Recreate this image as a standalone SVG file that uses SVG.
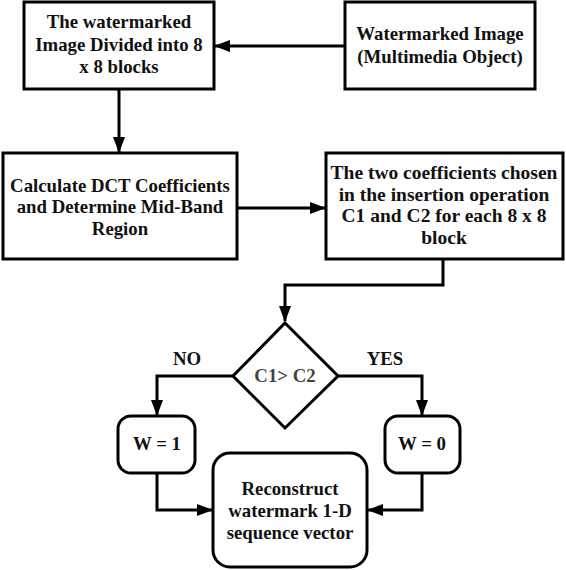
<svg xmlns="http://www.w3.org/2000/svg" width="566" height="570" viewBox="0 0 566 570">
<style>
.box{fill:#fff;stroke:#000;stroke-width:3}
.t{font-family:"Liberation Serif","Times New Roman",serif;font-weight:bold;font-size:18.8px;fill:#111;text-anchor:middle}
.c{fill:none;stroke:#000;stroke-width:3}
</style>
<defs>
<marker id="ah" markerWidth="16" markerHeight="12" refX="15" refY="6" orient="auto" markerUnits="userSpaceOnUse">
<path d="M0,0 L16,6 L0,12 Z" fill="#000"/>
</marker>
</defs>
<rect width="566" height="570" fill="#fff"/>
<g id="connectors">
<path class="c" d="M345,46 H215" marker-end="url(#ah)"/>
<path class="c" d="M119,89 V152" marker-end="url(#ah)"/>
<path class="c" d="M237,208 H325" marker-end="url(#ah)"/>
<path class="c" d="M443,259 V285 H285 V321" marker-end="url(#ah)"/>
<path class="c" d="M233,376 H157 V415" marker-end="url(#ah)"/>
<path class="c" d="M338,376 H422 V415" marker-end="url(#ah)"/>
<path class="c" d="M157,473 V510 H212" marker-end="url(#ah)"/>
<path class="c" d="M422,473 V510 H368" marker-end="url(#ah)"/>
</g>
<g id="n1">
<rect class="box" x="24" y="2" width="190" height="87"/>
<text class="t" x="119" y="28">The watermarked</text>
<text class="t" x="119" y="51">Image Divided into 8</text>
<text class="t" x="119" y="73">x 8 blocks</text>
</g>
<g id="n2">
<rect class="box" x="345" y="2" width="190" height="87"/>
<text class="t" x="440" y="40">Watermarked Image</text>
<text class="t" x="440" y="63">(Multimedia Object)</text>
</g>
<g id="n3">
<rect class="box" x="3" y="153" width="234" height="106"/>
<text class="t" x="120" y="192">Calculate DCT Coefficients</text>
<text class="t" x="120" y="213">and Determine Mid-Band</text>
<text class="t" x="120" y="235">Region</text>
</g>
<g id="n4">
<rect class="box" x="326" y="153" width="237" height="106"/>
<text class="t" x="444" y="179" style="font-size:19.5px">The two coefficients chosen</text>
<text class="t" x="444" y="201" style="font-size:19.5px">in the insertion operation</text>
<text class="t" x="444" y="222" style="font-size:19.5px">C1 and C2 for each 8 x 8</text>
<text class="t" x="444" y="244" style="font-size:19.5px">block</text>
</g>
<g id="decision">
<path class="box" d="M285,323 L338,376 L285,428 L233,376 Z"/>
<text class="t" x="285" y="382" style="fill:#444">C1&gt; C2</text>
</g>
<g id="labels">
<text class="t" x="187" y="365">NO</text>
<text class="t" x="385" y="365">YES</text>
</g>
<g id="w1">
<rect class="box" x="118" y="416" width="77" height="57" rx="13"/>
<text class="t" x="157" y="450">W = 1</text>
</g>
<g id="w0">
<rect class="box" x="385" y="416" width="75" height="57" rx="13"/>
<text class="t" x="422" y="450">W = 0</text>
</g>
<g id="n5">
<rect class="box" x="213" y="453" width="154" height="114" rx="17"/>
<text class="t" x="290" y="495">Reconstruct</text>
<text class="t" x="290" y="517">watermark 1-D</text>
<text class="t" x="290" y="539">sequence vector</text>
</g>
</svg>
